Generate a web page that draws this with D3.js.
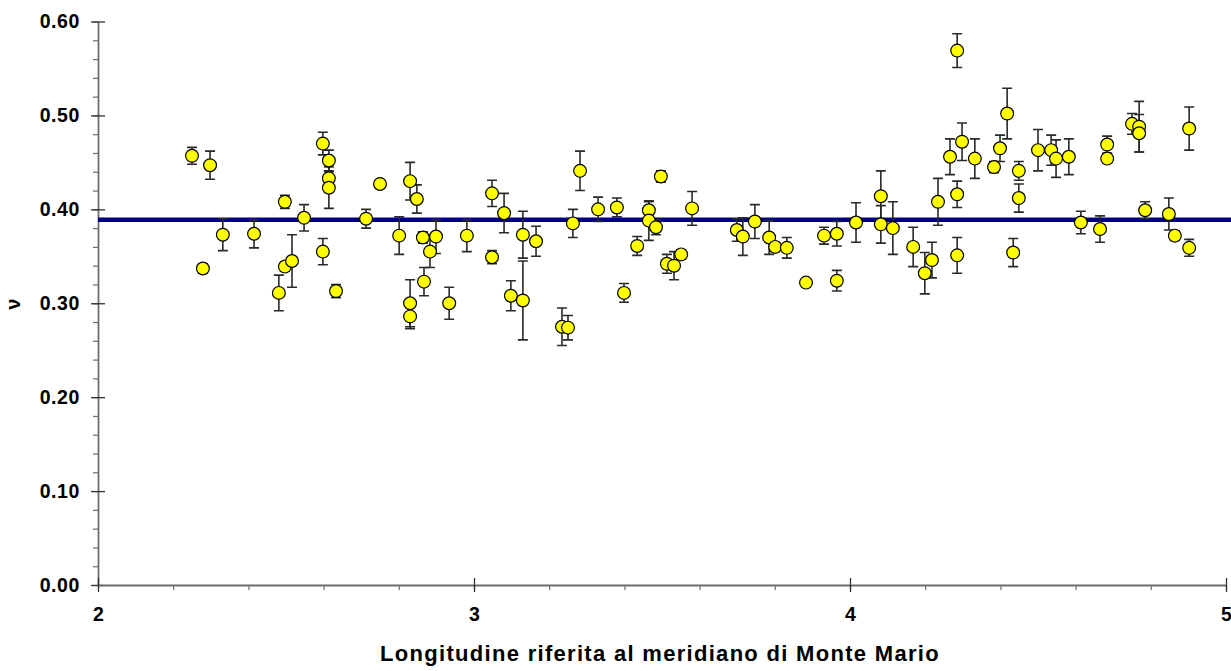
<!DOCTYPE html>
<html>
<head>
<meta charset="utf-8">
<script src="https://cdn.jsdelivr.net/npm/d3@7"></script>
<style>
  html, body { margin: 0; padding: 0; background: #fff; }
  svg { display: block; font-family: Arial, "Liberation Sans", sans-serif; }
</style>
</head>
<body>
<svg id="chart" width="1231" height="671"></svg>
<script>
// Longitude (referred to the Monte Mario meridian) of each station
const longitude = [
  2.250, 2.279, 2.298, 2.332, 2.415, 2.481, 2.497, 2.497, 2.516, 2.548,
  2.598, 2.598, 2.614, 2.614, 2.614, 2.633, 2.713, 2.750, 2.801, 2.830,
  2.848, 2.864, 2.899, 2.883, 2.867, 2.830, 2.830, 2.934, 2.981, 3.048,
  3.080, 3.048, 3.130, 3.165, 3.098, 3.130, 3.234, 3.250, 3.263, 3.282,
  3.330, 3.380, 3.399, 3.434, 3.465, 3.465, 3.484, 3.497, 3.513, 3.532,
  3.551, 3.580, 3.699, 3.715, 3.747, 3.785, 3.801, 3.832, 3.883, 3.931,
  3.965, 3.965, 4.016, 4.082, 4.082, 4.114, 4.168, 4.199, 4.218, 4.234,
  4.266, 4.285, 4.285, 4.285, 4.298, 4.332, 4.383, 4.399, 4.418, 4.449,
  4.449, 4.434, 4.500, 4.535, 4.548, 4.582, 4.614, 4.665, 4.684, 4.684,
  4.750, 4.769, 4.769, 4.785, 4.848, 4.864, 4.902, 4.902
];

// Estimated ν at each station
const nu = [
  0.457, 0.337, 0.447, 0.373, 0.374, 0.311, 0.408, 0.339, 0.345, 0.391,
  0.355, 0.470, 0.452, 0.433, 0.423, 0.313, 0.390, 0.427, 0.372, 0.430,
  0.411, 0.370, 0.371, 0.355, 0.323, 0.300, 0.286, 0.300, 0.372, 0.417,
  0.396, 0.349, 0.373, 0.366, 0.308, 0.303, 0.275, 0.274, 0.385, 0.441,
  0.400, 0.402, 0.311, 0.361, 0.399, 0.388, 0.381, 0.435, 0.342, 0.340,
  0.352, 0.401, 0.378, 0.371, 0.387, 0.370, 0.360, 0.359, 0.322, 0.372,
  0.374, 0.324, 0.386, 0.414, 0.384, 0.380, 0.360, 0.332, 0.346, 0.408,
  0.456, 0.569, 0.416, 0.351, 0.472, 0.454, 0.445, 0.465, 0.502, 0.441,
  0.412, 0.354, 0.463, 0.463, 0.454, 0.456, 0.386, 0.379, 0.469, 0.454,
  0.491, 0.488, 0.481, 0.399, 0.395, 0.372, 0.486, 0.359
];

// Half-width of the uncertainty on ν
const nuError = [
  0.009, 0.005, 0.015, 0.017, 0.015, 0.019, 0.007, 0.005, 0.028, 0.014,
  0.014, 0.012, 0.011, 0.007, 0.022, 0.007, 0.010, 0.004, 0.020, 0.020,
  0.015, 0.006, 0.018, 0.017, 0.015, 0.025, 0.013, 0.017, 0.017, 0.014,
  0.021, 0.007, 0.025, 0.016, 0.016, 0.042, 0.020, 0.013, 0.015, 0.021,
  0.013, 0.010, 0.010, 0.010, 0.009, 0.021, 0.008, 0.006, 0.010, 0.015,
  0.005, 0.018, 0.012, 0.020, 0.018, 0.018, 0.005, 0.011, 0.004, 0.009,
  0.013, 0.011, 0.021, 0.027, 0.020, 0.028, 0.021, 0.022, 0.019, 0.025,
  0.019, 0.018, 0.014, 0.019, 0.020, 0.021, 0.006, 0.014, 0.027, 0.010,
  0.015, 0.015, 0.022, 0.016, 0.020, 0.019, 0.012, 0.014, 0.009, 0.005,
  0.011, 0.027, 0.020, 0.009, 0.017, 0.005, 0.023, 0.009
];

// Mean value drawn as a horizontal reference line
const meanNu = 0.389;

const xTickValues = [2, 3, 4, 5];
const yTickValues = [0, 0.1, 0.2, 0.3, 0.4, 0.5, 0.6];

const xTitle = "Longitudine riferita al meridiano di Monte Mario";
const yTitle = "ν";

const svg = d3.select("#chart");
const W = 1231, H = 671;
const plot = { left: 98, right: 1226, top: 21.5, bottom: 585 };

const x = d3.scaleLinear().domain([2, 5]).range([plot.left, plot.right]);
const y = d3.scaleLinear().domain([0, 0.6]).range([plot.bottom, plot.top]);

const points = longitude.map((lon, i) => ({ lon, v: nu[i], e: nuError[i] }));

const axisColor = "#6e6e6e";
const tickFont = 19.5;

// ---- Y axis: minor ticks outside, major ticks crossing the line
const yMinor = d3.range(0, 0.6001, 0.02);
svg.append("g")
  .attr("transform", `translate(${plot.left},0)`)
  .call(d3.axisLeft(y).tickValues(yMinor).tickSize(5).tickFormat(""))
  .call(g => g.select(".domain").remove())
  .call(g => g.selectAll("line").attr("stroke", axisColor).attr("stroke-width", 1.2));

const yAxisG = svg.append("g")
  .attr("transform", `translate(${plot.left},0)`)
  .call(d3.axisLeft(y).tickValues(yTickValues).tickSize(7).tickSizeOuter(0).tickPadding(11)
    .tickFormat(d3.format(".2f")));
yAxisG.select(".domain").attr("stroke", axisColor).attr("stroke-width", 1.8);
yAxisG.selectAll(".tick line").attr("stroke", "#333").attr("stroke-width", 1.3);
yAxisG.selectAll(".tick text")
  .attr("font-size", tickFont).attr("font-weight", "bold").attr("fill", "#000")
  .attr("letter-spacing", 0.6);
svg.append("g")
  .attr("transform", `translate(${plot.left},0)`)
  .call(d3.axisRight(y).tickValues(yTickValues).tickSize(7).tickFormat(""))
  .call(g => g.select(".domain").remove())
  .call(g => g.selectAll("line").attr("stroke", "#333").attr("stroke-width", 1.3));

// ---- X axis
const xMinor = d3.range(2, 5.0001, 0.2);
svg.append("g")
  .attr("transform", `translate(0,${plot.bottom})`)
  .call(d3.axisBottom(x).tickValues(xMinor).tickSize(5).tickFormat(""))
  .call(g => g.select(".domain").remove())
  .call(g => g.selectAll("line").attr("stroke", axisColor).attr("stroke-width", 1.2));

const xAxisG = svg.append("g")
  .attr("transform", `translate(0,${plot.bottom})`)
  .call(d3.axisBottom(x).tickValues(xTickValues).tickSize(7).tickSizeOuter(0).tickPadding(15)
    .tickFormat(d3.format("d")));
xAxisG.select(".domain").attr("stroke", axisColor).attr("stroke-width", 1.8);
xAxisG.selectAll(".tick line").attr("stroke", "#333").attr("stroke-width", 1.3);
xAxisG.selectAll(".tick text")
  .attr("font-size", tickFont).attr("font-weight", "bold").attr("fill", "#000");
svg.append("g")
  .attr("transform", `translate(0,${plot.bottom})`)
  .call(d3.axisTop(x).tickValues(xTickValues).tickSize(7).tickFormat(""))
  .call(g => g.select(".domain").remove())
  .call(g => g.selectAll("line").attr("stroke", "#333").attr("stroke-width", 1.3));

// ---- Mean reference line
svg.append("line")
  .attr("x1", plot.left).attr("x2", W)
  .attr("y1", y(meanNu)).attr("y2", y(meanNu))
  .attr("stroke", "#000080").attr("stroke-width", 4.5);

// ---- Error bars (drawn beneath the markers)
const capHalf = 5;
const bars = svg.append("g").attr("stroke", "#2a2a2a").attr("stroke-width", 1.6).attr("fill", "none");
bars.selectAll("path")
  .data(points)
  .join("path")
  .attr("d", d => {
    const cx = x(d.lon), top = y(d.v + d.e), bot = y(d.v - d.e);
    return `M${cx},${top}V${bot}` +
      `M${cx - capHalf},${top}H${cx + capHalf}` +
      `M${cx - capHalf},${bot}H${cx + capHalf}`;
  });

// ---- Markers
svg.append("g")
  .selectAll("circle")
  .data(points)
  .join("circle")
  .attr("cx", d => x(d.lon))
  .attr("cy", d => y(d.v))
  .attr("r", 6.4)
  .attr("fill", "#ffff00")
  .attr("stroke", "#000")
  .attr("stroke-width", 1.2);

// ---- Axis titles
svg.append("text")
  .attr("x", 660)
  .attr("y", 661)
  .attr("text-anchor", "middle")
  .attr("font-size", 22)
  .attr("font-weight", "bold")
  .attr("letter-spacing", 1.3)
  .text(xTitle);

svg.append("text")
  .attr("transform", `translate(20,${y(0.3) + 1}) rotate(-90)`)
  .attr("text-anchor", "middle")
  .attr("font-size", 20)
  .attr("font-weight", "bold")
  .text(yTitle);
</script>
</body>
</html>
